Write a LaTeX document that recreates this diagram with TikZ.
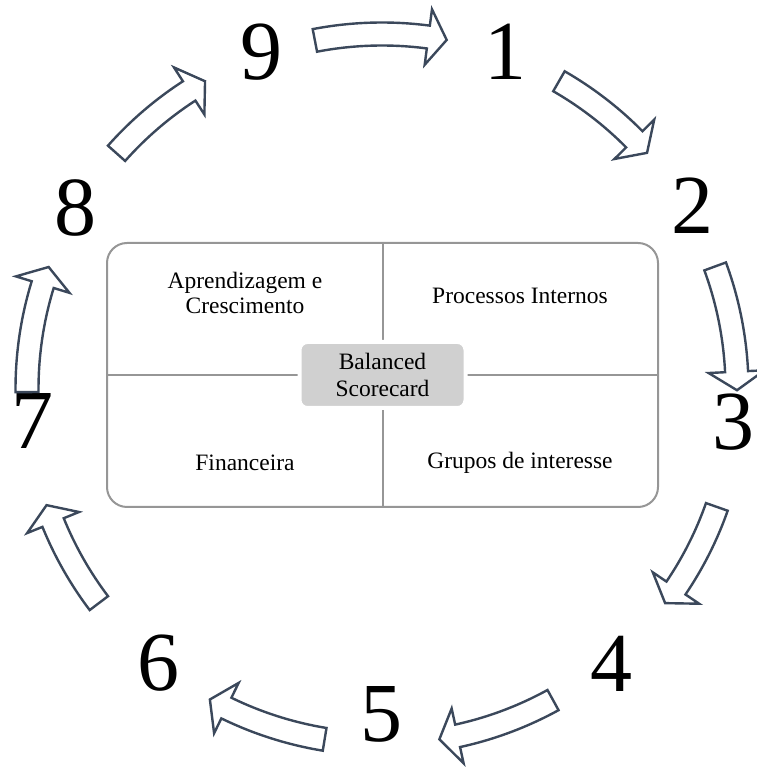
\documentclass[tikz,border=0pt]{standalone}
\usepackage{fontspec}
\setmainfont{Liberation Serif}
\usetikzlibrary{positioning}

\definecolor{seta}{RGB}{59,72,91}
\definecolor{borda}{RGB}{150,150,150}
\definecolor{centro}{RGB}{208,208,208}

% seta curva do ciclo: cauda no angulo #1, ponta no angulo #2
\newcommand{\setaciclo}[2]{%
  \draw[ciclo] (#1:366.5) arc[start angle=#1, end angle=#2+3, radius=366.5]
    -- (#2+3:383) -- (#2:355) -- (#2+3:327) -- (#2+3:343.5)
    arc[start angle=#2+3, end angle=#1, radius=343.5] -- cycle;}

\begin{document}
\begin{tikzpicture}[
  x=1pt, y=1pt,
  font=\fontsize{23.5}{25}\selectfont,
  num/.style={font=\fontsize{84}{84}\selectfont, inner sep=0pt},
  quad/.style={rectangle, draw=borda, line width=2pt, rounded corners=20pt,
               minimum width=551pt, minimum height=264pt},
  div/.style={draw=borda, line width=2pt},
  bsc/.style={rectangle, fill=centro, draw=white, line width=4pt, rounded corners=8pt,
              minimum width=166pt, minimum height=66pt, align=center,
              font=\fontsize{23.5}{27}\selectfont},
  txt/.style={align=center, inner sep=0pt},
  ciclo/.style={draw=seta, fill=white, line width=2.4pt, line join=miter}
]
\useasboundingbox (0,0) rectangle (757,771);

% --- Quadro central ---
\node[quad] (quadro) at (382.5,396) {};
\draw[div] (quadro.north) -- (quadro.south);
\draw[div] (quadro.west) -- (quadro.east);
\node[bsc] (score) at (quadro.center) {Balanced\\Scorecard};

\node[txt] (apr)  at (245,478) {Aprendizagem e\\Crescimento};
\node[txt] (proc) at (520,475) {Processos Internos};
\node[txt] (fin)  at (245,308) {Financeira};
\node[txt] (grp)  at (520,308) {Grupos de interesse};

% --- Numeros ---
\node[num] (n1) at (505,719) {1};
\node[num] (n2) at (692,565) {2};
\node[num] (n3) at (733,349) {3};
\node[num] (n4) at (611,107) {4};
\node[num] (n5) at (381,57)  {5};
\node[num] (n6) at (158,108) {6};
\node[num] (n7) at (32,350)  {7};
\node[num] (n8) at (75,563)  {8};
\node[num] (n9) at (261,719) {9};

% --- Setas do ciclo ---
\begin{scope}[shift={(382,382)}]
  \foreach \cauda/\ponta in {100.9/79.5, 60.1/41.7, 20.2/-0.2, -19.4/-37.1,
      -61.2/-80.7, -99.3/-119, -142.9/-160.9, -179.5/-200.1, -221.6/-240.1}
    {\setaciclo{\cauda}{\ponta}}
\end{scope}

\end{tikzpicture}
\end{document}
